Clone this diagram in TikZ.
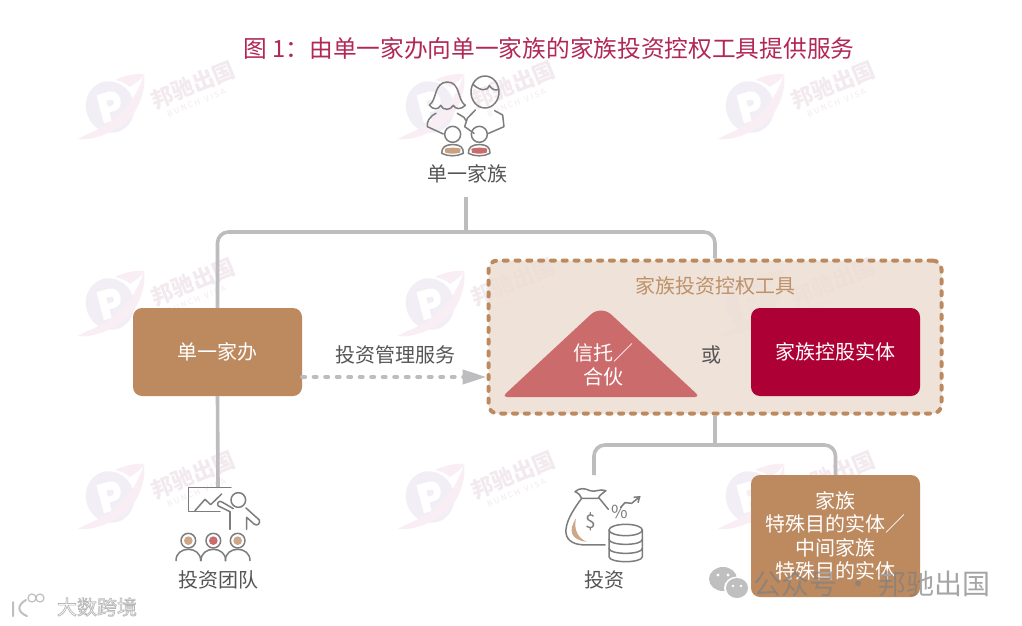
\documentclass[tikz,border=0pt]{standalone}
\usepackage{fontspec}
\usepackage{xcolor}
\setmainfont{Noto Sans CJK SC}
\usetikzlibrary{arrows.meta, positioning, calc}
\definecolor{cTitle}{RGB}{178,40,85}
\definecolor{cTan}{RGB}{189,138,96}
\definecolor{cTanText}{RGB}{190,145,105}
\definecolor{cPanel}{RGB}{236,222,211}
\definecolor{cCrimson}{RGB}{173,0,52}
\definecolor{cRose}{RGB}{204,107,107}
\definecolor{cLine}{RGB}{189,189,192}
\definecolor{cIcon}{RGB}{125,125,125}
\definecolor{cText}{RGB}{85,85,85}
\definecolor{cMarkA}{RGB}{242,238,246}
\definecolor{cMarkB}{RGB}{249,238,243}
\definecolor{cMarkT}{RGB}{243,234,240}
\tikzset{
	cap20/.style    ={font=\fontsize{20}{24}\selectfont, text=cText, inner sep=0pt},
	block/.style    ={rectangle, rounded corners=9pt, minimum width=169pt, minimum height=88pt, align=center, text=white, font=\fontsize{20}{23.5}\selectfont, inner sep=0pt},
	conn/.style     ={draw=cLine, line width=3.6pt, rounded corners=11pt},
	flow/.style     ={draw=cLine, line width=4pt, line cap=round, dash pattern=on 3pt off 8.5pt, -{Triangle[length=24pt,width=14pt,fill=cLine]}},
	icon/.style     ={draw=cIcon, line width=1.5pt, line join=round, line cap=round},
	wmtext/.style   ={font=\fontsize{22}{24}\bfseries\selectfont, text=cMarkT, rotate=22, inner sep=0pt},
	wmsmall/.style  ={font=\fontsize{8}{9}\selectfont, text=cMarkT, rotate=22, inner sep=0pt},
	% pale logo behind the picture
	wmlogo/.pic={
		\fill[cMarkB] (5,-27) .. controls (15,-32) and (28,-34) .. (34,-33) .. controls (32,-28) and (26,-24) .. (20,-20) .. controls (16,-24) and (10,-26) .. (5,-27) -- cycle;
		\fill[cMarkA, rotate=20] (0,0) circle[x radius=24pt, y radius=26pt];
		\fill[white, rotate=15] (-10,-15) -- (3,-15) .. controls (15,-15) and (15,5) .. (3,5) -- (-2,5) -- (-2,14) -- (-10,14) -- cycle;
		\fill[cMarkA, rotate=15] (-2,-7) -- (2,-7) .. controls (6,-7) and (6,-1) .. (2,-1) -- (-2,-1) -- cycle;
		\fill[cMarkB] (34,-33) .. controls (28,-14) and (16,6) .. (-4,18) .. controls (-14,24) and (-26,28) .. (-32,32) .. controls (-18,34) and (8,26) .. (24,6) .. controls (32,-6) and (36,-22) .. (34,-33) -- cycle;
	},
}
\begin{document}
\begin{tikzpicture}[x=1pt, y=-1pt]
	\useasboundingbox (0,0) rectangle (1022,626);
	\fill[white] (0,0) rectangle (1022,626);
	% watermarks
	\foreach \wx in {193,513,833} {
		\foreach \wy in {85,282,475} {
			\path (\wx-83,\wy+22) pic {wmlogo};
			\node[wmtext] (wm\wx\wy) at (\wx,\wy) {邦驰出国};
			\node[wmsmall, below=4pt of wm\wx\wy, xshift=-2pt] (ws\wx\wy) {B U N C H \ \ V I S A};
		}
	}
	\node[font=\fontsize{23.7}{26}\selectfont, text=cTitle, inner sep=0pt] (title) at (549,48) {图 1：由单一家办向单一家族的家族投资控权工具提供服务};
	% blocks
	\node[cap20] (familyLabel) at (467,174) {单一家族};
	\node[block, fill=cTan] (office) at (217.5,352) {单一家办};
	\node[rectangle, rounded corners=9pt, minimum width=453pt, minimum height=153pt, fill=cPanel, fill opacity=.85, draw=cTan, line width=4pt, line cap=round, dash pattern=on 4pt off 7.8pt] (tool) at (715,337) {};
	\node[cap20, text=cTanText, below=18pt of tool.north] (toolLabel) {家族投资控权工具};
	\node[block, fill=cCrimson] (holding) at (835.5,352) {家族控股实体};
	\fill[cRose] (601,397) [rounded corners=5pt] -- (502,397) [rounded corners=14pt] -- (601,305) [rounded corners=5pt] -- (700,397) -- cycle;
	\node[align=center, text=white, font=\fontsize{20}{23.5}\selectfont, inner sep=0pt] (trust) at (603,365) {信托／\\合伙};
	\node[cap20] (orLabel) at (711,355) {或};
	\node[block, fill=cTan, minimum height=122pt] (spv) at (835.5,536) {家族\\特殊目的实体／\\中间家族\\特殊目的实体};
	\node[cap20] (teamLabel) at (218,580) {投资团队};
	\node[cap20] (investLabel) at (604,580) {投资};
	\node[cap20] (serviceLabel) at (395,355) {投资管理服务};
	% connectors
	\coordinate (busTop) at (466,232);
	\coordinate (busLow) at (715,445);
	\coordinate (teamTop) at (218,487);
	\coordinate (investTop) at (594,475);
	\coordinate (flowLevel) at (0,377);
	\draw[conn, shorten <=14pt] (familyLabel.south -| busTop) -- (busTop);
	\draw[conn] (office.north) -- (office.north |- busTop) -- (tool.north |- busTop) -- (tool.north);
	\draw[conn] (office.south) -- (teamTop);
	\draw[conn] (tool.south) -- (busLow);
	\draw[conn] (investTop) -- (investTop |- busLow) -- (spv.north |- busLow) -- (spv.north);
	\draw[flow] (office.east |- flowLevel) -- (tool.west |- flowLevel);
	% family icon
	\begin{scope}[shift={(400,70)}, x=.3333pt, y=-.3333pt]
		\draw[icon] (88,105) .. controls (112,90) and (100,38) .. (142,36) .. controls (182,36) and (172,92) .. (196,106) .. controls (182,120) and (166,118) .. (160,106) .. controls (152,122) and (128,122) .. (122,106) .. controls (116,120) and (98,120) .. (88,105);
		\draw[icon] (108,130) .. controls (88,140) and (80,155) .. (82,170) -- (130,192);
		\draw[icon] (172,130) -- (192,142) -- (198,152);
		\draw[icon] (255,66) circle[x radius=42, y radius=48];
		\draw[icon] (220,44) .. controls (240,62) and (262,66) .. (268,46) .. controls (276,60) and (286,62) .. (296,58);
		\draw[icon] (226,120) -- (202,145) -- (194,170) -- (222,190);
		\draw[icon] (284,122) -- (308,135) -- (312,170) -- (266,190);
		\draw[icon] (158,193) circle[radius=24];
		\draw[icon] (238,193) circle[radius=24];
		\fill[cTan!80] (134,236) .. controls (150,232) and (168,232) .. (182,236) -- (180,248) .. controls (165,252) and (150,252) .. (136,248) -- cycle;
		\fill[cRose] (214,236) .. controls (230,232) and (248,232) .. (262,236) -- (260,248) .. controls (245,252) and (230,252) .. (216,248) -- cycle;
		\draw[icon] (125,250) .. controls (125,232) and (135,224) .. (158,224) .. controls (182,224) and (190,232) .. (190,250) .. controls (170,260) and (145,260) .. (125,250) -- cycle;
		\draw[icon] (205,250) .. controls (205,232) and (215,224) .. (238,224) .. controls (262,224) and (270,232) .. (270,250) .. controls (250,260) and (225,260) .. (205,250) -- cycle;
	\end{scope}
	% team icon
	\begin{scope}[shift={(150,470)}, x=.3333pt, y=-.3333pt]
		\draw[icon] (243,52) -- (115,52) -- (115,125) -- (210,125);
		\draw[icon] (135,122) -- (165,88) -- (182,104) -- (215,72);
		\draw[icon] (265,90) circle[radius=22];
		\draw[icon] (240,125) -- (240,178);
		\draw[icon] (240,125) -- (205,108) .. controls (198,100) and (208,90) .. (216,96) -- (250,116);
		\draw[icon] (288,114) -- (328,150) .. controls (332,160) and (322,170) .. (312,162) -- (290,142) -- (290,178);
		\foreach \hx/\hc in {115/cTan!75, 190/cRose, 263/cTan!75} {
			\draw[icon] (\hx,212) circle[radius=22];
			\fill[\hc] (\hx,212) circle[radius=13];
			\draw[icon] (\hx-37,272) .. controls (\hx-37,250) and (\hx-20,238) .. (\hx,238) .. controls (\hx+20,238) and (\hx+37,250) .. (\hx+37,272);
		}
	\end{scope}
	% invest icon
	\begin{scope}[shift={(550,470)}, x=.3333pt, y=-.3333pt]
		\draw[icon] (95,85) -- (145,85) .. controls (150,72) and (160,70) .. (168,62) .. controls (150,55) and (135,68) .. (120,62) .. controls (105,55) and (90,52) .. (75,65) .. controls (85,70) and (92,75) .. (95,85);
		\draw[icon] (95,85) .. controls (65,125) and (45,160) .. (48,190) .. controls (52,215) and (75,225) .. (110,225) -- (165,225);
		\draw[icon] (148,85) -- (175,118);
		\fill[cTan!75] (78,145) .. controls (55,180) and (60,210) .. (110,215) .. controls (85,205) and (70,180) .. (78,145);
		\node[font=\fontsize{19}{20}\selectfont, text=cIcon, inner sep=0pt] (dollar) at (123,155) {\$};
		\node[font=\fontsize{18}{20}\selectfont, text=cIcon, inner sep=0pt] (percent) at (208,127) {\%};
		\draw[icon, -{Straight Barb[length=5pt,width=7pt]}] (212,112) -- (225,98) -- (245,100) -- (272,78);
		\draw[icon] (227,180) circle[x radius=50, y radius=17];
		\draw[icon] (177,180) -- (177,260) .. controls (177,280) and (277,280) .. (277,260) -- (277,180);
		\draw[icon] (177,208) .. controls (177,228) and (277,228) .. (277,208);
		\draw[icon] (177,235) .. controls (177,255) and (277,255) .. (277,235);
	\end{scope}
	% corner marks
	\fill[gray!50] (723,579) circle[x radius=14pt, y radius=12pt];
	\fill[white] (737,588) circle[x radius=13pt, y radius=11.5pt];
	\fill[gray!50] (737,588) circle[x radius=11pt, y radius=10pt];
	\fill[white] (718,575) circle[radius=1.6pt] (728,575) circle[radius=1.6pt] (733,586) circle[radius=1.4pt] (741,586) circle[radius=1.4pt];
	\node[font=\fontsize{28}{30}\selectfont, text=gray, text opacity=.7, inner sep=0pt] (wechatLabel) at (872,584) {公众号 · 邦驰出国};
	\node[font=\fontsize{20}{22}\selectfont, text=white, inner sep=0pt] (cornerLabel) at (97,607) {\special{pdf:code q 2 Tr 0.7 w 0.72 G 1 g}大数跨境\special{pdf:code Q}};
	\draw[black!25, line width=2pt, line cap=round] (13,602) -- (13,616) (26,600) .. controls (17,605) and (17,612) .. (27,616);
	\draw[black!25, line width=1.2pt] (32,598) circle[radius=4pt] (40,598) circle[radius=4pt];
\end{tikzpicture}
\end{document}
